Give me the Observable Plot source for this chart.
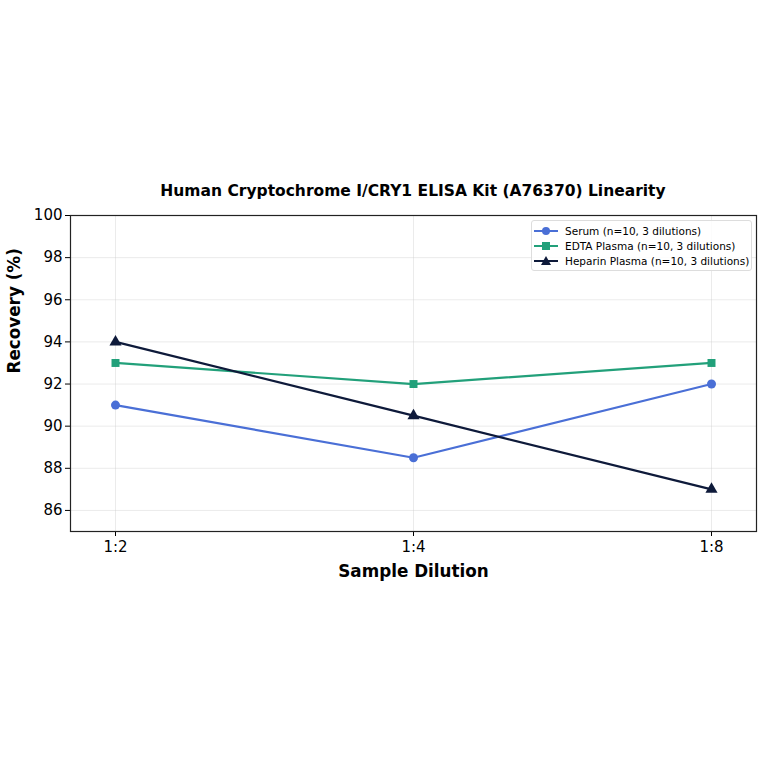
<!DOCTYPE html>
<html><head><meta charset="utf-8">
<script src="https://cdn.jsdelivr.net/npm/d3@7"></script>
<script src="https://cdn.jsdelivr.net/npm/@observablehq/plot@0.6"></script>
<style>
body{margin:0;background:#fff;font-family:"DejaVu Sans",sans-serif;}
#wrap{position:relative;width:764px;height:764px;}
#title{position:absolute;left:70px;width:686px;top:182px;text-align:center;font-weight:bold;font-size:15.5px;color:#000;}
#legend{position:absolute;left:531px;top:220px;width:219px;border:1px solid #ddd;border-radius:3px;background:rgba(255,255,255,0.85);font-size:10.5px;padding:2px 0;white-space:nowrap;}
#legend div{display:flex;align-items:center;height:15px;padding-left:2px;}
#legend svg{margin-right:7px;flex:none;}
</style></head><body>
<div id="wrap"><div id="title">Human Cryptochrome I/CRY1 ELISA Kit (A76370) Linearity</div><div id="legend"></div></div>
<script>
const dilutions = ["1:2", "1:4", "1:8"];
const seriesNames = ["Serum (n=10, 3 dilutions)", "EDTA Plasma (n=10, 3 dilutions)", "Heparin Plasma (n=10, 3 dilutions)"];
const serum = [91, 88.5, 92];
const edta = [93, 92, 93];
const heparin = [94, 90.5, 87];
const colors = ["#4a6fd6", "#22a07a", "#0e1a3a"];
const symbols = ["circle", "square", "triangle"];
const yTicks = [86, 88, 90, 92, 94, 96, 98, 100];

const data = [];
[serum, edta, heparin].forEach((vals, si) => {
  vals.forEach((v, i) => data.push({series: seriesNames[si], dil: dilutions[i], v}));
});

const plot = Plot.plot({
  width: 764, height: 764,
  marginTop: 215, marginBottom: 233, marginLeft: 70, marginRight: 8,
  style: {fontFamily: "DejaVu Sans, sans-serif", fontSize: "15px", color: "#000", background: "#fff"},
  x: {type: "point", domain: dilutions, padding: 0.151, label: null},
  y: {domain: [85, 100], ticks: yTicks, label: null},
  color: {domain: seriesNames, range: colors},
  symbol: {domain: seriesNames, range: symbols},
  marks: [
    Plot.gridY(yTicks, {stroke: "#ccc", strokeOpacity: 0.5, strokeWidth: 0.8}),
    Plot.gridX(dilutions, {stroke: "#ccc", strokeOpacity: 0.5, strokeWidth: 0.8}),
    Plot.axisY({ticks: yTicks, tickSize: 5, tickPadding: 3, fontSize: 15, label: null}),
    Plot.axisX({tickSize: 5, tickPadding: 5, fontSize: 15, label: null}),
    Plot.line(data, {x: "dil", y: "v", z: "series", stroke: "series", strokeWidth: 2.2}),
    Plot.dot(data, {x: "dil", y: "v", fill: "series", symbol: "series", r: 4.5}),
    Plot.frame({stroke: "#222", strokeWidth: 1.2}),
    Plot.text(["Sample Dilution"], {frameAnchor: "bottom", dy: 45, fontSize: 16.8, fontWeight: "bold", fill: "#000"}),
    Plot.text(["Recovery (%)"], {frameAnchor: "left", dx: -56, rotate: -90, fontSize: 16.8, fontWeight: "bold", fill: "#000"})
  ]
});
document.getElementById("wrap").prepend(plot);

const leg = document.getElementById("legend");
seriesNames.forEach((n, i) => {
  const row = document.createElement("div");
  let mark;
  if (symbols[i] === "circle") mark = `<circle cx="12" cy="6" r="4" fill="${colors[i]}"/>`;
  else if (symbols[i] === "square") mark = `<rect x="8" y="2" width="8" height="8" fill="${colors[i]}"/>`;
  else mark = `<polygon points="12,1 17,10 7,10" fill="${colors[i]}"/>`;
  row.innerHTML = `<svg width="24" height="12"><line x1="0" y1="6" x2="24" y2="6" stroke="${colors[i]}" stroke-width="2"/>${mark}</svg><span>${n}</span>`;
  leg.appendChild(row);
});
</script>
</body></html>
